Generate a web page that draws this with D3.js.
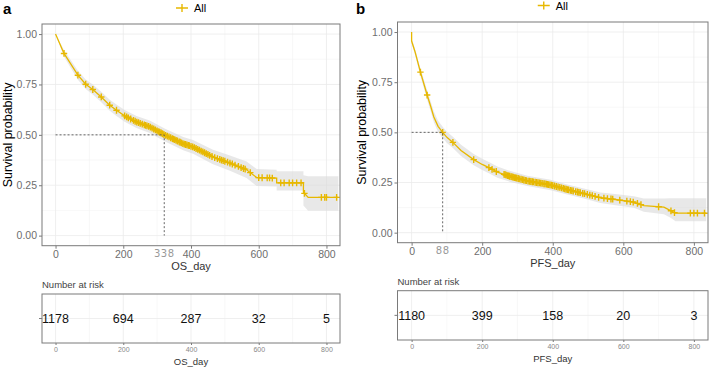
<!DOCTYPE html>
<meta charset="utf-8">
<style>
  body { margin: 0; overflow: hidden; background: #fff; }
  text { font-family: "Liberation Sans", Arial, sans-serif; }
  .grid-major { stroke: #ebebeb; stroke-width: 0.8; }
  .grid-minor { stroke: #f4f4f4; stroke-width: 0.6; }
  .frame { fill: none; stroke: #7a7a7a; stroke-width: 1; }
</style>
<body>
</body>
<script src="https://cdn.jsdelivr.net/npm/d3@7"></script>
<script>

// overall survival (panel a)
var osTime  = [0, 25, 66, 89, 110, 135, 160, 180, 204, 239, 278, 322, 377, 406, 465, 515, 564, 594, 653, 653, 732, 732, 746, 835];
var osSurv  = [1.00, 0.904, 0.796, 0.751, 0.725, 0.688, 0.647, 0.622, 0.594, 0.564, 0.540, 0.500, 0.456, 0.440, 0.390, 0.360, 0.327, 0.288, 0.285, 0.262, 0.262, 0.215, 0.190, 0.190];
var osLower = [1.00, 0.887, 0.773, 0.727, 0.700, 0.662, 0.620, 0.594, 0.565, 0.534, 0.509, 0.468, 0.423, 0.406, 0.354, 0.322, 0.286, 0.246, 0.244, 0.224, 0.224, 0.150, 0.124, 0.124];
var osUpper = [1.00, 0.921, 0.818, 0.775, 0.750, 0.714, 0.674, 0.650, 0.623, 0.594, 0.571, 0.532, 0.489, 0.474, 0.426, 0.398, 0.368, 0.330, 0.327, 0.320, 0.320, 0.300, 0.295, 0.295];
var osCensor = [25, 66, 89, 110, 135, 160, 180, 204, 210, 215, 222, 230, 235, 240, 245, 250, 256, 262, 266, 270, 275, 280, 285, 290, 295, 300, 305, 308, 312, 316, 320, 325, 330, 335, 340, 345, 348, 352, 356, 360, 365, 368, 372, 376, 380, 384, 388, 392, 395, 400, 405, 410, 415, 420, 425, 430, 435, 440, 445, 450, 455, 462, 470, 478, 485, 490, 495, 500, 508, 515, 522, 530, 540, 548, 555, 560, 575, 600, 610, 625, 632, 640, 665, 675, 690, 700, 712, 725, 735, 785, 795, 800, 830];
var osMedian = {at: 321, label: "338"};
var osRisk = [1178, 694, 287, 32, 5];

// progression-free survival (panel b)
var pfsTime  = [0, 0, 10, 25, 44, 54, 63, 75, 88, 100, 117, 140, 176, 200, 219, 243, 280, 328, 394, 441, 488, 535, 583, 630, 658, 715, 734, 748, 835];
var pfsSurv  = [1.00, 0.955, 0.900, 0.800, 0.686, 0.630, 0.577, 0.530, 0.500, 0.475, 0.450, 0.410, 0.364, 0.340, 0.324, 0.302, 0.280, 0.258, 0.238, 0.215, 0.195, 0.174, 0.164, 0.152, 0.135, 0.127, 0.110, 0.097, 0.097];
var pfsLower = [1.00, 0.944, 0.884, 0.780, 0.662, 0.605, 0.550, 0.502, 0.472, 0.447, 0.422, 0.382, 0.336, 0.312, 0.296, 0.274, 0.253, 0.232, 0.212, 0.190, 0.170, 0.148, 0.136, 0.124, 0.104, 0.092, 0.074, 0.057, 0.057];
var pfsUpper = [1.00, 0.966, 0.916, 0.820, 0.710, 0.655, 0.604, 0.558, 0.528, 0.503, 0.478, 0.438, 0.392, 0.368, 0.352, 0.330, 0.307, 0.284, 0.264, 0.240, 0.220, 0.200, 0.192, 0.182, 0.170, 0.170, 0.172, 0.172, 0.172];
var pfsCensor = [25, 44, 88, 117, 176, 219, 228, 240, 262, 265, 268, 272, 275, 278, 282, 285, 288, 292, 295, 298, 302, 305, 310, 314, 318, 322, 325, 330, 334, 338, 342, 345, 350, 354, 358, 362, 366, 370, 375, 378, 382, 385, 388, 392, 396, 400, 405, 410, 415, 420, 425, 430, 434, 438, 442, 445, 450, 454, 458, 465, 470, 474, 478, 485, 490, 498, 505, 512, 520, 530, 545, 555, 565, 570, 590, 610, 620, 628, 640, 650, 700, 735, 745, 790, 800, 810, 830];
var pfsMedian = {at: 88, label: "88"};
var pfsRisk = [1180, 399, 158, 20, 3];

var xTicks = [0, 200, 400, 600, 800];
var yTicks = [0, 0.25, 0.5, 0.75, 1];
var riskTimes = [0, 200, 400, 600, 800];

var gold = "#E7B800";

var svg = d3.select("body").append("svg")
    .attr("width", 709)
    .attr("height", 368);

var panels = [
  {tag: "a", time: osTime, surv: osSurv, lower: osLower, upper: osUpper, censor: osCensor,
   median: osMedian, risk: osRisk, xlab: "OS_day",
   left: 42, right: 340, top: 24, bottom: 245.7, riskTop: 294, riskBottom: 343,
   legendY: 8, titleX: 12, tagX: 3},
  {tag: "b", time: pfsTime, surv: pfsSurv, lower: pfsLower, upper: pfsUpper, censor: pfsCensor,
   median: pfsMedian, risk: pfsRisk, xlab: "PFS_day",
   left: 397.5, right: 708, top: 22, bottom: 242.7, riskTop: 290.7, riskBottom: 340,
   legendY: 5.5, titleX: 366, tagX: 356}
];

panels.forEach(drawPanel);

function survAt(p, t) {
  // value of the read curve at time t
  var i = d3.bisectRight(p.time, t) - 1;
  if (i < 0) i = 0;
  if (i >= p.time.length - 1) return p.surv[p.time.length - 1];
  var t0 = p.time[i], t1 = p.time[i + 1];
  if (t1 === t0) return p.surv[i + 1];
  return p.surv[i] + (p.surv[i + 1] - p.surv[i]) * (t - t0) / (t1 - t0);
}

function drawPanel(p) {
  var x = d3.scaleLinear().domain([-40, 840]).range([p.left, p.right]);
  var y = d3.scaleLinear().domain([-0.05, 1.05]).range([p.bottom, p.top]);
  var g = svg.append("g");

  g.append("text")
      .attr("x", p.tagX)
      .attr("y", 14)
      .style("font-size", "15px")
      .style("font-weight", "bold")
      .text(p.tag);

  // legend
  var lx = (p.left + p.right) / 2;
  var leg = g.append("g").attr("transform", "translate(" + (lx - 9) + "," + p.legendY + ")");
  leg.append("path")
      .attr("d", "M-6,0H6M0,-4V4")
      .style("stroke", gold)
      .style("stroke-width", 1.4);
  leg.append("text")
      .attr("x", 12)
      .attr("y", 4)
      .style("font-size", "11px")
      .text("All");

  // grid
  var minorX = [100, 300, 500, 700];
  var minorY = [0.125, 0.375, 0.625, 0.875];
  g.selectAll(".mx").data(minorX).enter().append("line")
      .attr("class", "grid-minor")
      .attr("x1", d => x(d)).attr("x2", d => x(d))
      .attr("y1", p.top).attr("y2", p.bottom);
  g.selectAll(".my").data(minorY).enter().append("line")
      .attr("class", "grid-minor")
      .attr("x1", p.left).attr("x2", p.right)
      .attr("y1", d => y(d)).attr("y2", d => y(d));
  g.selectAll(".gx").data(xTicks).enter().append("line")
      .attr("class", "grid-major")
      .attr("x1", d => x(d)).attr("x2", d => x(d))
      .attr("y1", p.top).attr("y2", p.bottom);
  g.selectAll(".gy").data(yTicks).enter().append("line")
      .attr("class", "grid-major")
      .attr("x1", p.left).attr("x2", p.right)
      .attr("y1", d => y(d)).attr("y2", d => y(d));

  var rows = p.time.map((t, i) => ({t: t, s: p.surv[i], lo: p.lower[i], hi: p.upper[i]}));

  var clipId = "clip" + p.tag;
  g.append("clipPath").attr("id", clipId).append("rect")
      .attr("x", p.left).attr("y", p.top)
      .attr("width", p.right - p.left).attr("height", p.bottom - p.top);

  var plot = g.append("g").attr("clip-path", "url(#" + clipId + ")");

  plot.append("path")
      .datum(rows)
      .attr("d", d3.area().x(d => x(d.t)).y0(d => y(d.lo)).y1(d => y(d.hi)))
      .style("fill", "#d9d9d9")
      .style("fill-opacity", 0.6);

  plot.append("path")
      .datum(rows)
      .attr("d", d3.line().x(d => x(d.t)).y(d => y(d.s)))
      .style("fill", "none")
      .style("stroke", gold)
      .style("stroke-width", 1.3);

  plot.selectAll(".cens").data(p.censor).enter().append("path")
      .attr("transform", d => "translate(" + x(d) + "," + y(survAt(p, d)) + ")")
      .attr("d", "M-3.2,0H3.2M0,-3.4V3.4")
      .style("stroke", gold)
      .style("stroke-width", 1.4);

  // median lines
  g.append("path")
      .attr("d", "M" + x(0) + "," + y(0.5) + "H" + x(p.median.at) + "V" + y(0))
      .style("fill", "none")
      .style("stroke", "#555")
      .style("stroke-width", 0.9)
      .style("stroke-dasharray", "2,2");

  g.append("rect")
      .attr("class", "frame")
      .attr("x", p.left).attr("y", p.top)
      .attr("width", p.right - p.left).attr("height", p.bottom - p.top);

  // axes
  var xAxis = g.append("g")
      .attr("transform", "translate(0," + p.bottom + ")")
      .call(d3.axisBottom(x).tickValues(xTicks).tickSize(3).tickPadding(2).tickFormat(d3.format("d")));
  var yAxis = g.append("g")
      .attr("transform", "translate(" + p.left + ",0)")
      .call(d3.axisLeft(y).tickValues(yTicks).tickSize(3).tickPadding(2).tickFormat(d3.format(".2f")));
  [xAxis, yAxis].forEach(function(a) {
    a.select(".domain").remove();
    a.selectAll(".tick line").style("stroke", "#7a7a7a");
    a.selectAll(".tick text").style("fill", "#6e6e6e").style("font-size", "10.5px");
  });

  g.append("text")
      .attr("x", x(p.median.at))
      .attr("y", p.bottom + 11.5)
      .attr("text-anchor", "middle")
      .style("font-family", "DejaVu Sans")
      .style("font-size", "10px")
      .style("fill", "#999")
      .style("letter-spacing", "0.5px")
      .text(p.median.label);

  g.append("text")
      .attr("x", (p.left + p.right) / 2)
      .attr("y", p.bottom + 24)
      .attr("text-anchor", "middle")
      .style("font-size", "11px")
      .style("fill", "#333")
      .text(p.xlab);

  g.append("text")
      .attr("transform", "translate(" + p.titleX + "," + ((p.top + p.bottom) / 2) + ") rotate(-90)")
      .attr("text-anchor", "middle")
      .style("font-size", "12.5px")
      .text("Survival probability");

  // risk table
  g.append("text")
      .attr("x", p.left)
      .attr("y", p.riskTop - 6)
      .style("font-size", "9.5px")
      .style("fill", "#444")
      .text("Number at risk");

  var ry = (p.riskTop + p.riskBottom) / 2;
  g.selectAll(".rmx").data(minorX).enter().append("line")
      .attr("class", "grid-minor")
      .attr("x1", d => x(d)).attr("x2", d => x(d))
      .attr("y1", p.riskTop).attr("y2", p.riskBottom);
  g.selectAll(".rgx").data(xTicks).enter().append("line")
      .attr("class", "grid-major")
      .attr("x1", d => x(d)).attr("x2", d => x(d))
      .attr("y1", p.riskTop).attr("y2", p.riskBottom);
  g.append("line")
      .attr("class", "grid-major")
      .attr("x1", p.left).attr("x2", p.right)
      .attr("y1", ry).attr("y2", ry);
  g.append("rect")
      .attr("class", "frame")
      .attr("x", p.left).attr("y", p.riskTop)
      .attr("width", p.right - p.left).attr("height", p.riskBottom - p.riskTop);
  g.append("line")
      .attr("x1", p.left - 3).attr("x2", p.left)
      .attr("y1", ry).attr("y2", ry)
      .style("stroke", "#7a7a7a");

  g.selectAll(".risk").data(p.risk).enter().append("text")
      .attr("x", (d, i) => x(riskTimes[i]))
      .attr("y", ry + 4.5)
      .attr("text-anchor", "middle")
      .style("font-size", "12.5px")
      .style("fill", "#111")
      .text(d => d);

  var rAxis = g.append("g")
      .attr("transform", "translate(0," + p.riskBottom + ")")
      .call(d3.axisBottom(x).tickValues(xTicks).tickSize(2).tickPadding(2).tickFormat(d3.format("d")));
  rAxis.select(".domain").remove();
  rAxis.selectAll(".tick line").style("stroke", "#7a7a7a");
  rAxis.selectAll(".tick text").style("fill", "#888").style("font-size", "7px");

  g.append("text")
      .attr("x", (p.left + p.right) / 2)
      .attr("y", p.riskBottom + 22)
      .attr("text-anchor", "middle")
      .style("font-size", "9.5px")
      .style("fill", "#333")
      .text(p.xlab);
}
</script>
